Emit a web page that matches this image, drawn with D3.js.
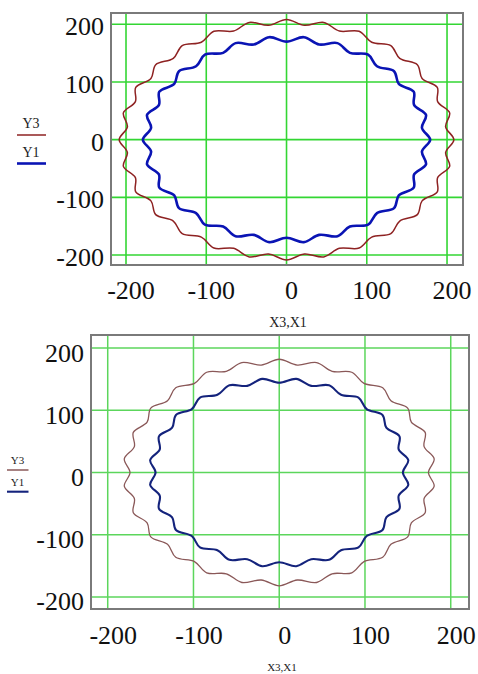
<!DOCTYPE html>
<html><head><meta charset="utf-8">
<script src="https://cdn.jsdelivr.net/npm/d3@7"></script>
<style>body{margin:0;background:#fff}svg{display:block}</style>
</head><body>
<svg id="c" width="478" height="674"></svg>
<script>
// ---- data ----
const xTicks = [-200, -100, 0, 100, 200];
const yTicks = [-200, -100, 0, 100, 200];
const xTickLabels = ["-200", "-100", "0", "100", "200"];
const yTickLabels = ["-200", "-100", "0", "100", "200"];
const seriesNames = ["Y3", "Y1"];
const axisName = "X3,X1";
// radii at successive wave crests/troughs, going counter-clockwise from the +x axis
const topY3 = [208.5,199.5,208.5,199.5,208.5,199.5,208.5,199.5,208.5,199.5,208.5,199.5,208.5,199.5,
               208.5,199.5,208.5,199.5,208.5,199.5,208.5,199.5,208.5,199.5,208.5,199.5,208.5,199.5,
               208.5,199.5,208.5,199.5,208.5,199.5,208.5,199.5,208.5,199.5,208.5,199.5,208.5,199.5,
               208.5,199.5,208.5,199.5,208.5,199.5,208.5,199.5,208.5,199.5,208.5,199.5,208.5,199.5];
const topY1 = [179,170,179,170,179,170,179,170,179,170,179,170,179,
               170,179,170,179,170,179,170,179,170,179,170,179,170,
               179,170,179,170,179,170,179,170,179,170,179,170,179,
               170,179,170,179,170,179,170,179,170,179,170,179,170];
const botY3 = [174,182,174,182,174,182,174,182,174,182,174,182,174,
               182,174,182,174,182,174,182,174,182,174,182,174,182,
               174,182,174,182,174,182,174,182,174,182,174,182,174,
               182,174,182,174,182,174,182,174,182,174,182,174,182];
const botY1 = [144.2,151.8,144.2,151.8,144.2,151.8,144.2,151.8,144.2,151.8,144.2,151.8,
               144.2,151.8,144.2,151.8,144.2,151.8,144.2,151.8,144.2,151.8,144.2,151.8,
               144.2,151.8,144.2,151.8,144.2,151.8,144.2,151.8,144.2,151.8,144.2,151.8,
               144.2,151.8,144.2,151.8,144.2,151.8,144.2,151.8,144.2,151.8,144.2,151.8];

// ---- layout / styles ----
const panels = [
  { left:111, right:463, top:13, bottom:265,
    xd:[-218.7,219.9], yd:[-217.3,219.6],
    y3:topY3, y1:topY1,
    grid:"#33d633", gridW:1.6,
    c3:"#8e2222", w3:1.5, c1:"#0a14b4", w1:2.6,
    tickFont:26, yLabRight:104, yLabDy:11, xLabBase:298.5, xLabDx:5,
    axisX:288, axisY:327, axisFont:14,
    leg:{x1:17,x2:46, t3:128, l3:135, t1:157, l1:163.5, font:14, tx:31} },
  { left:91, right:469, top:335, bottom:609,
    xd:[-219.5,221.3], yd:[-219.3,221],
    y3:botY3, y1:botY1,
    grid:"#5cd65c", gridW:1.5,
    c3:"#8a5858", w3:1.3, c1:"#14237c", w1:2.1,
    tickFont:26, yLabRight:84, yLabDy:13.5, xLabBase:643.5, xLabDx:5.5,
    axisX:282, axisY:671, axisFont:11,
    leg:{x1:7,x2:28.5, t3:464, l3:470, t1:486, l1:491.7, font:11, tx:17.5} }
];

const svg = d3.select("#c");
const serif = "'Liberation Serif','Times New Roman',serif";

function toXY(radii){
  const n = radii.length;
  return radii.map((r,i)=>{ const a = i*2*Math.PI/n; return [r*Math.cos(a), r*Math.sin(a)]; });
}

panels.forEach(p=>{
  const x = d3.scaleLinear().domain(p.xd).range([p.left,p.right]);
  const y = d3.scaleLinear().domain(p.yd).range([p.bottom,p.top]);
  const g = svg.append("g");

  // grid
  g.selectAll(".gx").data(xTicks).join("line")
    .attr("x1",d=>x(d)).attr("x2",d=>x(d)).attr("y1",p.top).attr("y2",p.bottom)
    .attr("stroke",p.grid).attr("stroke-width",p.gridW);
  g.selectAll(".gy").data(yTicks).join("line")
    .attr("y1",d=>y(d)).attr("y2",d=>y(d)).attr("x1",p.left).attr("x2",p.right)
    .attr("stroke",p.grid).attr("stroke-width",p.gridW);

  // curves
  const line = d3.line().x(d=>x(d[0])).y(d=>y(d[1])).curve(d3.curveCatmullRomClosed.alpha(0.5));
  g.append("path").attr("d",line(toXY(p.y3))).attr("fill","none")
    .attr("stroke",p.c3).attr("stroke-width",p.w3);
  g.append("path").attr("d",line(toXY(p.y1))).attr("fill","none")
    .attr("stroke",p.c1).attr("stroke-width",p.w1);

  // frame
  g.append("rect").attr("x",p.left).attr("y",p.top)
    .attr("width",p.right-p.left).attr("height",p.bottom-p.top)
    .attr("fill","none").attr("stroke","#7a7a7a").attr("stroke-width",2);

  // tick labels
  g.selectAll(".ty").data(yTicks).join("text")
    .attr("x",p.yLabRight).attr("y",d=>y(d)+p.yLabDy)
    .attr("text-anchor","end").attr("font-family",serif).attr("font-size",p.tickFont)
    .attr("fill","#111").text((d,i)=>yTickLabels[i]);
  g.selectAll(".tx").data(xTicks).join("text")
    .attr("x",d=>x(d)+p.xLabDx).attr("y",p.xLabBase)
    .attr("text-anchor","middle").attr("font-family",serif).attr("font-size",p.tickFont)
    .attr("fill","#111").text((d,i)=>xTickLabels[i]);

  // axis name
  g.append("text").attr("x",p.axisX).attr("y",p.axisY).attr("text-anchor","middle")
    .attr("font-family",serif).attr("font-size",p.axisFont).attr("fill","#222").text(axisName);

  // legend on y side
  const L = p.leg;
  g.append("text").attr("x",L.tx).attr("y",L.t3).attr("text-anchor","middle")
    .attr("font-family",serif).attr("font-size",L.font).attr("fill","#222").text(seriesNames[0]);
  g.append("line").attr("x1",L.x1).attr("x2",L.x2).attr("y1",L.l3).attr("y2",L.l3)
    .attr("stroke",p.c3).attr("stroke-width",1.5);
  g.append("text").attr("x",L.tx).attr("y",L.t1).attr("text-anchor","middle")
    .attr("font-family",serif).attr("font-size",L.font).attr("fill","#222").text(seriesNames[1]);
  g.append("line").attr("x1",L.x1).attr("x2",L.x2).attr("y1",L.l1).attr("y2",L.l1)
    .attr("stroke",p.c1).attr("stroke-width",p.w1);
});
</script>
</body></html>
